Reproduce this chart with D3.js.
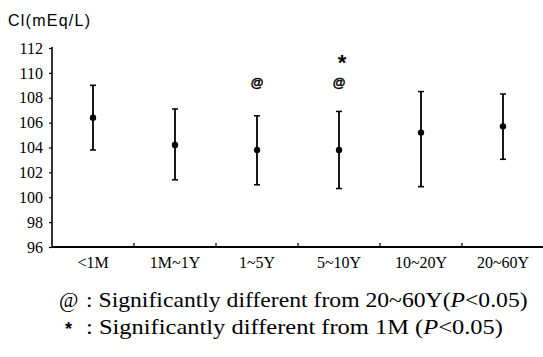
<!DOCTYPE html>
<html><head><meta charset="utf-8">
<script src="https://cdn.jsdelivr.net/npm/d3@7"></script>
<style>body{margin:0;background:#fff}svg{display:block}</style>
</head><body>
<script>
const categories = ["<1M","1M~1Y","1~5Y","5~10Y","10~20Y","20~60Y"];
const means = [106.4,104.2,103.8,103.8,105.2,105.7];
const upper = [109.0,107.1,106.55,106.9,108.5,108.3];
const lower = [103.8,101.4,101.0,100.7,100.85,103.05];
const atMarks = ["1~5Y","5~10Y"];
const starMarks = ["5~10Y"];
const yTicks = [96,98,100,102,104,106,108,110,112];

const W=543,H=357;
const svg=d3.select("body").append("svg").attr("width",W).attr("height",H);
const x=d3.scaleBand().domain(categories).range([52,544]);
const y=d3.scaleLinear().domain([96,112]).range([247,48]);
const serif="'Liberation Serif','Times New Roman',serif";
const sans="'Liberation Sans',Arial,sans-serif";

// y axis
const ya=svg.append("g").attr("transform","translate(52,0)").call(d3.axisLeft(y).tickValues(yTicks).tickSize(3).tickPadding(6));
ya.select(".domain").attr("stroke","#000").attr("stroke-width",1.6).attr("d","M0,47V247");
ya.selectAll("text").attr("font-family",serif).attr("font-size",16).attr("fill","#000");
ya.selectAll(".tick line").attr("stroke","#000").attr("stroke-width",1.2);

// x axis
const xa=svg.append("g").attr("transform","translate(0,247)").call(d3.axisBottom(x).tickSize(0).tickPadding(10));
xa.select(".domain").attr("stroke","#000").attr("stroke-width",2).attr("d","M52,0H543");
xa.selectAll("text").attr("font-family",serif).attr("font-size",16).attr("fill","#000");
svg.append("g").selectAll("line").data(categories.slice(1)).join("line")
  .attr("x1",d=>x(d)).attr("x2",d=>x(d)).attr("y1",247).attr("y2",243)
  .attr("stroke","#000").attr("stroke-width",1.2);

// title
svg.append("text").attr("x",8).attr("y",26).attr("font-family",sans)
  .attr("font-size",16).attr("textLength",82).attr("fill","#000").text("Cl(mEq/L)");

// error bars
const g=svg.append("g");
categories.forEach((c,i)=>{
  const cx=x(c)+x.bandwidth()/2;
  g.append("line").attr("x1",cx).attr("x2",cx).attr("y1",y(upper[i])).attr("y2",y(lower[i])).attr("stroke","#000").attr("stroke-width",1.8);
  [upper[i],lower[i]].forEach(v=>g.append("line").attr("x1",cx-3).attr("x2",cx+3).attr("y1",y(v)).attr("y2",y(v)).attr("stroke","#000").attr("stroke-width",1.5));
  g.append("circle").attr("cx",cx).attr("cy",y(means[i])).attr("r",3.2).attr("fill","#000");
});
// annotations
svg.append("g").selectAll("text").data(atMarks).join("text")
  .attr("x",d=>x(d)+x.bandwidth()/2).attr("y",y(109.2)+4.5).attr("text-anchor","middle")
  .attr("font-family",sans).attr("font-weight","bold").attr("font-size",13).attr("fill","#000")
  .attr("stroke","#000").attr("stroke-width",0.4).text("@");
svg.append("g").selectAll("text").data(starMarks).join("text")
  .attr("x",d=>x(d)+x.bandwidth()/2+3).attr("y",y(111.0)+10).attr("text-anchor","middle")
  .attr("font-family",sans).attr("font-weight","bold").attr("font-size",22).attr("fill","#000").text("*");

// legend
function stretched(x0, yb, target){
  const gg=svg.append("g").attr("font-family",serif).attr("font-size",21).attr("fill","#000");
  const t=gg.append("text").attr("x",0).attr("y",0);
  return {t,finish(){
    const len=t.node().getComputedTextLength();
    gg.attr("transform",`translate(${x0},${yb}) scale(${target/len},1)`);
  }};
}
svg.append("text").attr("x",59).attr("y",307).attr("font-family",serif).attr("font-size",21).attr("fill","#000").text("@");
const l1=stretched(86,307,442);
l1.t.append("tspan").text(": Significantly different from 20~60Y(");
l1.t.append("tspan").attr("font-style","italic").text("P");
l1.t.append("tspan").text("<0.05)");
l1.finish();
svg.append("text").attr("x",65).attr("y",335).attr("font-family",sans).attr("font-weight","bold").attr("font-size",18).attr("fill","#000").text("*");
const l2=stretched(86,334,417);
l2.t.append("tspan").text(": Significantly different from 1M (");
l2.t.append("tspan").attr("font-style","italic").text("P");
l2.t.append("tspan").text("<0.05)");
l2.finish();
</script>
</body></html>
